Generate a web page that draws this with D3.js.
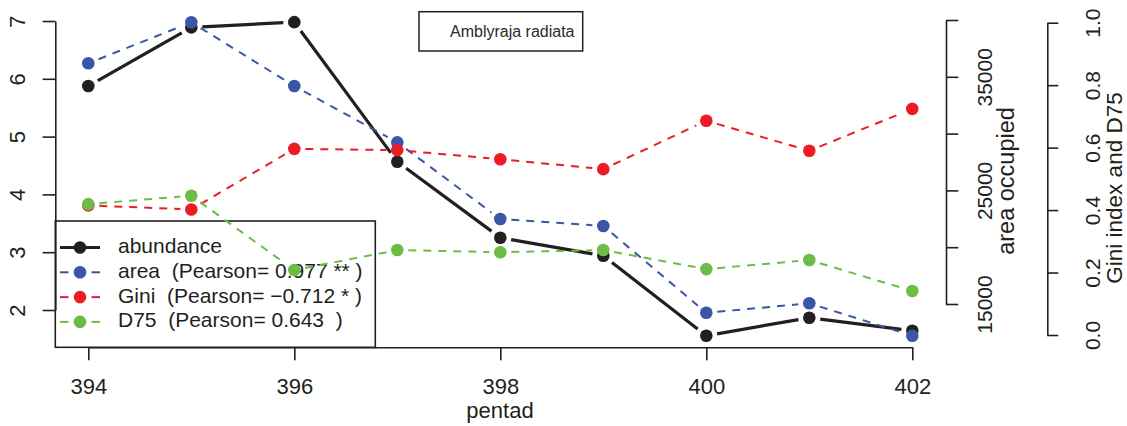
<!DOCTYPE html>
<html>
<head>
<meta charset="utf-8">
<script src="https://cdn.jsdelivr.net/npm/d3@7"></script>
<style>
  html, body { margin: 0; padding: 0; background: #fff; }
  svg { display: block; font-family: "Liberation Sans", Arial, Helvetica, sans-serif; }
  text { white-space: pre; }
</style>
</head>
<body>
<svg id="chart" width="1127" height="426"></svg>
<script>
// Pentads on the x axis
const pentads = [394, 395, 396, 397, 398, 399, 400, 401, 402];
// Series values
const abundance = [5.875, 6.89, 6.98, 4.566, 3.251, 2.938, 1.555, 1.867, 1.642];
const area = [36190, 39800, 34190, 29230, 22480, 21870, 14230, 15060, 12210];
const gini = [0.415, 0.402, 0.596, 0.592, 0.563, 0.531, 0.686, 0.590, 0.724];
const d75 = [0.419, 0.446, 0.208, 0.272, 0.265, 0.272, 0.211, 0.240, 0.141];
// Tick values
const xTicks = [394, 396, 398, 400, 402];
const abundTicks = [2, 3, 4, 5, 6, 7];
const areaTicks = [15000, 20000, 25000, 30000, 35000, 40000];
const areaLabelled = [15000, 25000, 35000];
const indexTicks = [0, 0.2, 0.4, 0.6, 0.8, 1.0];
// Legend labels
const legendLabels = [
  "abundance",
  "area  (Pearson= 0.977 ** )",
  "Gini  (Pearson= \u22120.712 * )",
  "D75  (Pearson= 0.643  )"
];
const speciesName = "Amblyraja radiata";

const INK = "#231f20";
const colors = { abundance: "#231f20", area: "#3a56a6", gini: "#ec1c24", d75: "#6bbd45" };

const svg = d3.select("#chart");

// Plot frame
const plotLeft = 55.3, plotRight = 946, plotBottom = 347.3;

const x = d3.scaleLinear().domain([394, 402]).range([88.3, 912.3]);
const yAbund = d3.scaleLinear().domain([2, 7]).range([310, 21]);
const yArea = d3.scaleLinear().domain([15000, 40000]).range([304, 20]);
const yIndex = d3.scaleLinear().domain([0, 1]).range([335, 22.7]);

function styleAxis(g, size) {
  g.attr("font-family", null).attr("font-size", null);
  g.selectAll("path.domain").attr("stroke", INK).attr("stroke-width", 1.6);
  g.selectAll(".tick line").attr("stroke", INK).attr("stroke-width", 1.6);
  g.selectAll(".tick text").attr("fill", INK).attr("font-size", size);
}

// Bottom axis
const gx = svg.append("g")
  .attr("transform", `translate(0,${plotBottom})`)
  .call(d3.axisBottom(x).tickValues(xTicks).tickSize(13).tickSizeOuter(0).tickFormat(d3.format("d")));
styleAxis(gx, 22);
gx.selectAll(".tick text").attr("y", 46.7).attr("dy", 0);

svg.append("text")
  .attr("x", 500).attr("y", 418)
  .attr("text-anchor", "middle")
  .attr("font-size", 22).attr("fill", INK)
  .text("pentad");

// Left axis: abundance
const gl = svg.append("g")
  .attr("transform", `translate(${plotLeft},0)`)
  .call(d3.axisLeft(yAbund).tickValues(abundTicks).tickSize(12.7).tickSizeOuter(0).tickFormat(d3.format("d")));
styleAxis(gl, 22);
gl.selectAll(".tick text")
  .attr("x", null).attr("dy", null)
  .attr("text-anchor", "middle")
  .attr("transform", "translate(-30.3,0) rotate(-90)");

// Right axis: area occupied
const ga = svg.append("g")
  .attr("transform", `translate(${plotRight},0)`)
  .call(d3.axisRight(yArea).tickValues(areaTicks).tickSize(12.3).tickSizeOuter(0)
    .tickFormat(d => areaLabelled.includes(d) ? String(d) : ""));
styleAxis(ga, 21);
ga.selectAll(".tick text")
  .attr("x", null).attr("dy", null)
  .attr("text-anchor", "middle")
  .attr("transform", "translate(45.5,0) rotate(-90)");

svg.append("text")
  .attr("transform", "translate(1014,181) rotate(-90)")
  .attr("text-anchor", "middle")
  .attr("font-size", 23.5).attr("fill", INK)
  .text("area occupied");

// Second right axis: Gini index and D75
const gi = svg.append("g")
  .attr("transform", "translate(1047.3,0)")
  .call(d3.axisRight(yIndex).tickValues(indexTicks).tickSize(11).tickSizeOuter(0).tickFormat(d3.format(".1f")));
styleAxis(gi, 21);
gi.selectAll(".tick text")
  .attr("x", null).attr("dy", null)
  .attr("text-anchor", "middle")
  .attr("transform", "translate(53,0) rotate(-90)");

svg.append("text")
  .attr("transform", "translate(1121.5,188) rotate(-90)")
  .attr("text-anchor", "middle")
  .attr("font-size", 22.5).attr("fill", INK)
  .text("Gini index and D75");

// Series drawn as "both" style: segments with gaps around the points
const series = [
  { key: "abundance", values: abundance, y: yAbund, width: 3.2, dash: null },
  { key: "area", values: area, y: yArea, width: 2, dash: "8,7" },
  { key: "gini", values: gini, y: yIndex, width: 2, dash: "8,7" },
  { key: "d75", values: d75, y: yIndex, width: 2, dash: "8,7" }
];
const gap = 11;
const pointR = 6.3;

// Legend (bottom left of the plot, transparent box, drawn beneath the data)
const legend = svg.append("g");
legend.append("rect")
  .attr("x", plotLeft).attr("y", 221)
  .attr("width", 320).attr("height", plotBottom - 221)
  .attr("fill", "none")
  .attr("stroke", INK).attr("stroke-width", 1.6);

const rowY = i => 247.5 + i * 24.8;
series.forEach((s, i) => {
  const cy = rowY(i);
  if (s.dash) {
    [[60, 68.5], [91.5, 100]].forEach(([a, b]) => {
      legend.append("line")
        .attr("x1", a).attr("x2", b).attr("y1", cy).attr("y2", cy)
        .attr("stroke", colors[s.key]).attr("stroke-width", s.width);
    });
  } else {
    legend.append("line")
      .attr("x1", 60).attr("x2", 100).attr("y1", cy).attr("y2", cy)
      .attr("stroke", colors[s.key]).attr("stroke-width", s.width);
  }
  legend.append("circle")
    .attr("cx", 80).attr("cy", cy).attr("r", pointR)
    .attr("fill", colors[s.key]);
  legend.append("text")
    .attr("x", 118).attr("y", cy + 5.5)
    .attr("font-size", 21).attr("fill", INK)
    .text(legendLabels[i]);
});

series.forEach(s => {
  const pts = pentads.map((p, i) => [x(p), s.y(s.values[i])]);
  const segs = d3.pairs(pts).map(([a, b]) => {
    const dx = b[0] - a[0], dy = b[1] - a[1];
    const len = Math.hypot(dx, dy);
    const ux = dx / len, uy = dy / len;
    return [a[0] + ux * gap, a[1] + uy * gap, b[0] - ux * gap, b[1] - uy * gap];
  });
  const g = svg.append("g").attr("class", "series-" + s.key);
  g.selectAll("line").data(segs).join("line")
    .attr("x1", d => d[0]).attr("y1", d => d[1])
    .attr("x2", d => d[2]).attr("y2", d => d[3])
    .attr("stroke", colors[s.key])
    .attr("stroke-width", s.width)
    .attr("stroke-dasharray", s.dash);
  g.selectAll("circle").data(pts).join("circle")
    .attr("cx", d => d[0]).attr("cy", d => d[1])
    .attr("r", pointR)
    .attr("fill", colors[s.key]);
});

// Species label box at the top
svg.append("rect")
  .attr("x", 419).attr("y", 11.7)
  .attr("width", 163.7).attr("height", 39.3)
  .attr("fill", "#fff")
  .attr("stroke", INK).attr("stroke-width", 1.5);
svg.append("text")
  .attr("x", 450).attr("y", 37)
  .attr("font-size", 16).attr("fill", "#2a2a2a")
  .text(speciesName);
</script>
</body>
</html>
